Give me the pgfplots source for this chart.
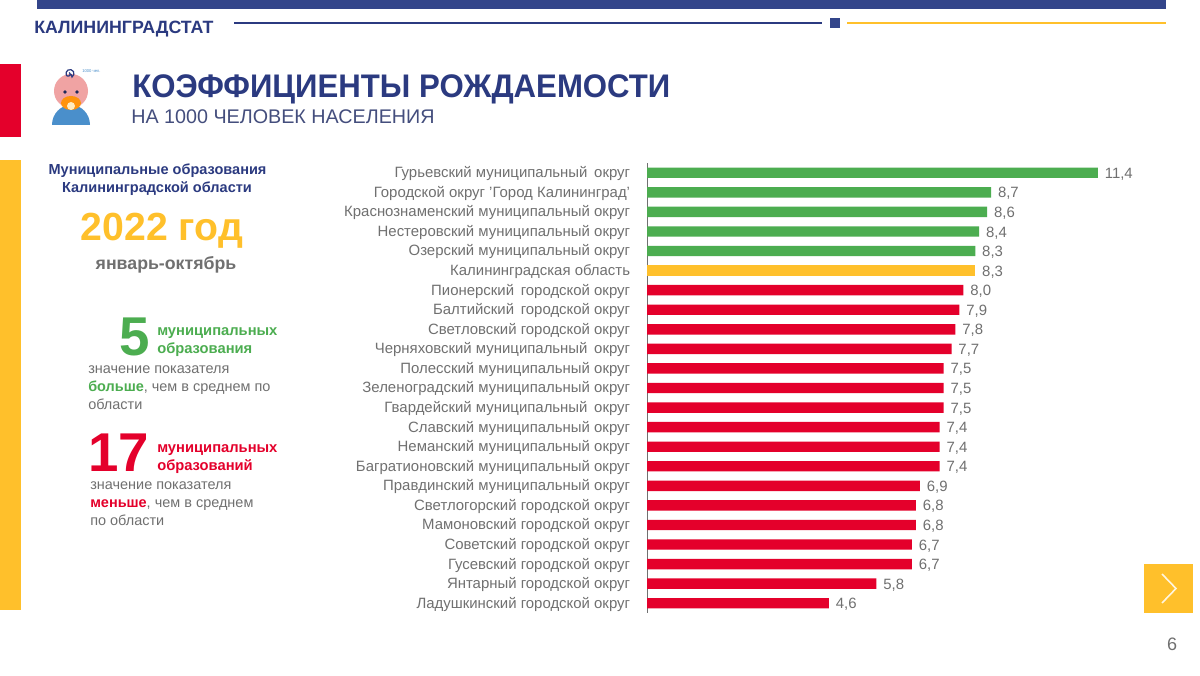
\documentclass[border=0pt]{standalone}
\usepackage{pgfplots}
\pgfplotsset{compat=1.18}
\usepackage{fontspec}
\setmainfont{Liberation Sans}
\definecolor{navy}{HTML}{2B3A80}
\definecolor{topbar}{HTML}{33458A}
\definecolor{grn}{HTML}{4CAD50}
\definecolor{yel}{HTML}{FFC02B}
\definecolor{redd}{HTML}{E4002B}
\definecolor{txt}{HTML}{707070}
\definecolor{skin}{HTML}{F0A3A3}
\definecolor{shirt}{HTML}{4A8FCB}
\newcommand{\fs}[1]{\fontsize{#1}{#1}\selectfont}
\begin{document}
\begin{tikzpicture}[x=0.75pt,y=0.75pt,line cap=butt]
\path[use as bounding box,fill=white] (0,0) rectangle (1200,675);
% frame
\fill[topbar] (37,666) rectangle (1166,675);
\fill[navy] (234,650.7) rectangle (822,653.3);
\fill[topbar] (830,647) rectangle (840,657);
\fill[yel] (847,650.7) rectangle (1166,653.3);
\fill[redd] (0,538) rectangle (21,611);
\fill[yel] (0,65) rectangle (21,515);
\fill[yel] (1144,62) rectangle (1193,111);
\draw[white!85!yel,line width=1.2pt] (1162,72) -- (1176,86.5) -- (1162,101);
\node[anchor=base,text=txt] at (1172,24) {\fs{13.5pt}6};
\node[anchor=base west,inner sep=0,text=navy] at (34,641) {\fs{13.35pt}\bfseries КАЛИНИНГРАДСТАТ};
% icon
\fill[shirt] (52,550) arc[start angle=180,end angle=0,x radius=19,y radius=20] -- cycle;
\fill[skin] (71,584) circle[radius=17];
\fill[navy!70!black] (65,583) circle (1.8) (77,583) circle (1.8);
\fill[orange!70!yel] (71,572) ellipse[x radius=10,y radius=7];
\fill[yel!30!white] (71,569) circle (4);
\draw[navy,line width=.9pt] (71,601) -- (72,598) arc[start angle=-60,end angle=200,radius=4] arc[start angle=200,end angle=420,radius=2];
\node[anchor=west,inner sep=0,text=shirt] at (82,604) {\fs{3.1pt}1000 чел.};
% title
\node[anchor=base west,inner sep=0,text=navy,xscale=0.954] at (132,577) {\fs{24.5pt}\bfseries КОЭФФИЦИЕНТЫ РОЖДАЕМОСТИ};
\node[anchor=base west,inner sep=0,text=navy!80!black!85!white] at (131,551) {\fs{14.8pt}НА 1000 ЧЕЛОВЕК НАСЕЛЕНИЯ};
% left panel
\node[anchor=base,inner sep=0,text=navy] at (157.5,500) {\fs{10.9pt}\bfseries Муниципальные образования};
\node[anchor=base,inner sep=0,text=navy] at (157,482.5) {\fs{10.9pt}\bfseries Калининградской области};
\node[anchor=base,inner sep=0,text=yel] at (162,434) {\fs{29.4pt}\bfseries 2022 год};
\node[anchor=base,inner sep=0,text=txt] at (166,405) {\fs{13.3pt}\bfseries январь-октябрь};
\node[anchor=base,inner sep=0,text=grn] at (135,319) {\fs{41pt}\bfseries 5};
\node[anchor=base west,inner sep=0,text=grn] at (157,339) {\fs{11.05pt}\bfseries муниципальных};
\node[anchor=base west,inner sep=0,text=grn] at (157,321) {\fs{11.05pt}\bfseries образования};
\node[anchor=base west,inner sep=0,text=txt] at (88,301) {\fs{10.85pt}значение показателя};
\node[anchor=base west,inner sep=0,text=txt] at (88,283) {\fs{10.85pt}\textcolor{grn}{\bfseries больше}, чем в среднем по};
\node[anchor=base west,inner sep=0,text=txt] at (88,265) {\fs{10.85pt}области};
\node[anchor=base,inner sep=0,text=redd] at (119,203) {\fs{41pt}\bfseries 17};
\node[anchor=base west,inner sep=0,text=redd] at (157,222) {\fs{11.05pt}\bfseries муниципальных};
\node[anchor=base west,inner sep=0,text=redd] at (157,204) {\fs{11.05pt}\bfseries образований};
\node[anchor=base west,inner sep=0,text=txt] at (90,185) {\fs{10.85pt}значение показателя};
\node[anchor=base west,inner sep=0,text=txt] at (90,167) {\fs{10.85pt}\textcolor{redd}{\bfseries меньше}, чем в среднем};
\node[anchor=base west,inner sep=0,text=txt] at (90,149) {\fs{10.85pt}по области};
% chart
\begin{axis}[
  at={(485.25pt,46.5pt)},anchor=south west,
  scale only axis,width=355.95pt,height=337.5pt,
  xmin=0,xmax=12,ymin=-0.5,ymax=22.5,y dir=reverse,
  axis x line=none,axis y line*=left,
  axis line style={-,draw=txt,line width=0.7pt},
  clip=false,
  xbar,bar shift=0pt,bar width=7.8pt,
  ytick={0,...,22},
  yticklabels={Гурьевский муниципальный\,\ округ,{Городской округ 'Город Калининград'},Краснознаменский муниципальный округ,Нестеровский муниципальный округ,Озерский муниципальный округ,Калининградская область,Пионерский\,\ городской округ,Балтийский\,\ городской округ,Светловский городской округ,Черняховский муниципальный\,\ округ,Полесский муниципальный округ,Зеленоградский муниципальный округ,Гвардейский муниципальный\,\ округ,Славский муниципальный округ,Неманский муниципальный округ,Багратионовский муниципальный округ,Правдинский муниципальный округ,Светлогорский городской округ,Мамоновский городской округ,Советский городской округ,Гусевский городской округ,Янтарный городской округ,Ладушкинский городской округ},
  y tick label style={font=\fs{11.2pt},text=txt,anchor=east,inner sep=0pt,xshift=-12.5pt,yshift=-0.7pt},
  major tick length=0pt,
  point meta=x,
  nodes near coords,
  nodes near coords style={font=\fs{11.2pt},text=txt,anchor=west,inner sep=0pt,xshift=5pt,yshift=-1pt,
    /pgf/number format/.cd,fixed,fixed zerofill,precision=1,use comma,assume math mode=true},
]
\addplot[draw=none,fill=grn] coordinates {(11.4,0) (8.7,1) (8.6,2) (8.4,3) (8.3,4)};
\addplot[draw=none,fill=yel] coordinates {(8.3,5)};
\addplot[draw=none,fill=redd] coordinates {(8.0,6) (7.9,7) (7.8,8) (7.7,9) (7.5,10) (7.5,11) (7.5,12) (7.4,13) (7.4,14) (7.4,15) (6.9,16) (6.8,17) (6.8,18) (6.7,19) (6.7,20) (5.8,21) (4.6,22)};
\end{axis}
\end{tikzpicture}
\end{document}
